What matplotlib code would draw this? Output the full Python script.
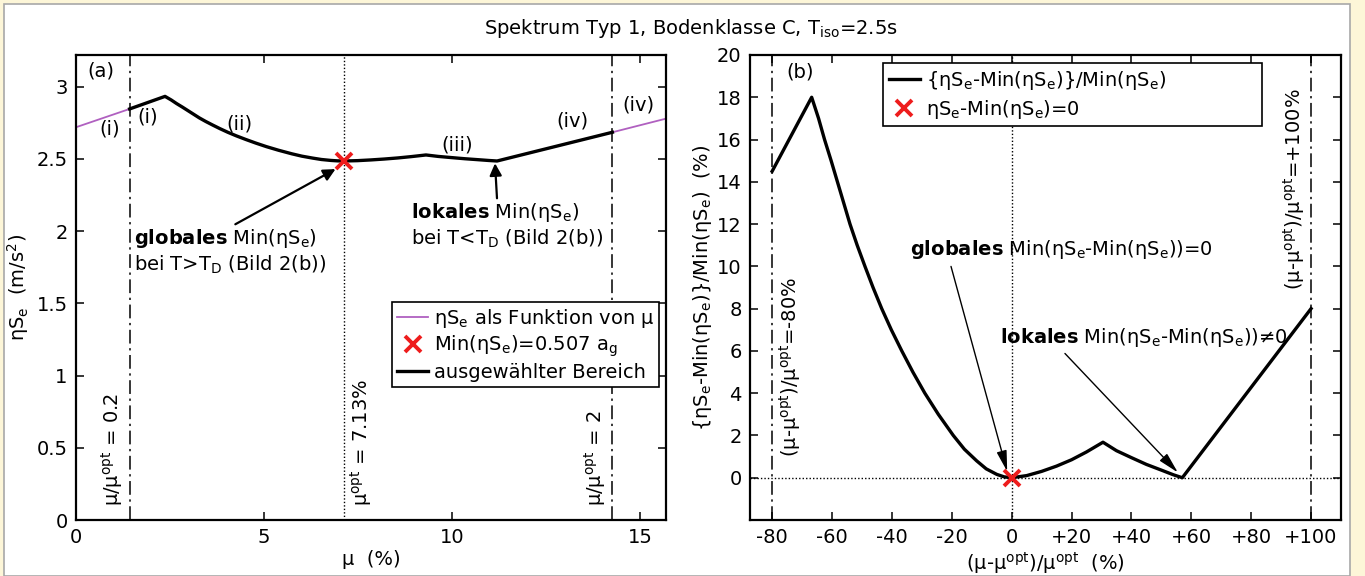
import matplotlib
matplotlib.use("Agg")
import matplotlib.pyplot as plt
from matplotlib.patches import Rectangle

plt.rcParams['font.family'] = ['DejaVu Sans']
plt.rcParams['mathtext.default'] = 'regular'

# ---------------- data ----------------
MU_OPT = 7.13          # %
SE_MIN = 2.486         # m/s^2

# relative deviation (right panel), selected range
rel_x = [-80, -66.8, -64.5, -62.5, -60.3, -58.2, -56.1, -54.0, -51.6, -49.0,
         -46.3, -43.4, -40.2, -36.7, -33.0, -29.0, -24.5, -19.5, -15.8, -11.7,
         -8.5, -5.0, -2.5, 0.0, 5.0, 10.0, 15.0, 20.0, 25.0, 30.5,
         35.0, 40.0, 45.0, 50.0, 54.0, 57.0, 100.0]
rel_y = [14.5, 18.0, 17.0, 16.0, 15.0, 14.0, 13.0, 12.0, 11.0, 10.0,
         9.0, 8.0, 7.0, 6.0, 5.0, 4.0, 3.0, 2.0, 1.35, 0.8,
         0.42, 0.16, 0.04, 0.0, 0.1, 0.3, 0.55, 0.85, 1.22, 1.68,
         1.28, 0.95, 0.63, 0.36, 0.14, 0.0, 8.0]

# function outside the selected range (purple)
ext_lo_x = [-100, -80]
ext_lo_y = [9.4, 14.5]
ext_hi_x = [100, 120]
ext_hi_y = [8.0, 11.8]

left_xticks = [0, 5, 10, 15]
left_yticks = [0, 0.5, 1, 1.5, 2, 2.5, 3]
left_yticklabels = ['0', '0.5', '1', '1.5', '2', '2.5', '3']
right_xticks = [-80, -60, -40, -20, 0, 20, 40, 60, 80, 100]
right_xticklabels = ['-80', '-60', '-40', '-20', '0', '+20', '+40', '+60', '+80', '+100']
right_yticks = [0, 2, 4, 6, 8, 10, 12, 14, 16, 18, 20]


def to_mu(r):
    return [MU_OPT * (1 + v / 100.0) for v in r]


def to_se(r):
    return [SE_MIN * (1 + v / 100.0) for v in r]


PURPLE = '#B060C0'
RED = '#EE1C1C'
DASHDOT = (0, (9, 3, 1.5, 3))
DOTTED = (0, (1, 1.5))
FS = 14

fig = plt.figure(figsize=(13.65, 5.76), dpi=100)
fig.patch.set_facecolor('#FDF6D8')
fig.add_artist(Rectangle((4 / 1365, 0), (1350 - 4) / 1365, 1 - 4 / 576,
                         transform=fig.transFigure, facecolor='white',
                         edgecolor='#A8A8A8', lw=1.2, zorder=-5))

fig.text(691 / 1365, 1 - 29 / 576, 'Spektrum Typ 1, Bodenklasse C, T$_{iso}$=2.5s',
         ha='center', va='center', fontsize=14)

axL = fig.add_axes([76 / 1365, 1 - 520 / 576, (666 - 76) / 1365, (520 - 55) / 576])
axR = fig.add_axes([750 / 1365, 1 - 520 / 576, (1341 - 750) / 1365, (520 - 55) / 576])

for ax in (axL, axR):
    ax.tick_params(direction='in', top=True, right=True, length=6, width=1.1,
                   labelsize=FS, pad=6)
    for s in ax.spines.values():
        s.set_linewidth(1.6)

# ---------------- left panel ----------------
axL.plot(to_mu(ext_lo_x), to_se(ext_lo_y), color=PURPLE, lw=1.3, zorder=2)
axL.plot(to_mu(ext_hi_x), to_se(ext_hi_y), color=PURPLE, lw=1.3, zorder=2)
axL.plot(to_mu(rel_x), to_se(rel_y), color='black', lw=2.4, zorder=3,
         solid_joinstyle='round')
axL.plot([MU_OPT], [SE_MIN], 'x', color=RED, ms=12, mew=2.8, zorder=4)

axL.axvline(MU_OPT * 0.2, color='black', lw=1.1, ls=DASHDOT, zorder=1)
axL.axvline(MU_OPT * 2.0, color='black', lw=1.1, ls=DASHDOT, zorder=1)
axL.axvline(MU_OPT, color='black', lw=1.0, ls=DOTTED, zorder=1)

axL.set_xlim(0, MU_OPT * 2.2)
axL.set_ylim(0, 3.22)
axL.set_xticks(left_xticks)
axL.set_yticks(left_yticks)
axL.set_yticklabels(left_yticklabels)
axL.set_xlabel('μ  (%)', fontsize=FS, labelpad=2)
axL.set_ylabel('ηS$_e$  (m/s$^2$)', fontsize=FS, labelpad=4)

axL.text(0.3, 3.11, '(a)', fontsize=FS, ha='left', va='center')
for x, y, s in [(0.9, 2.71, '(i)'), (1.9, 2.79, '(i)'), (4.35, 2.74, '(ii)'),
                (10.13, 2.60, '(iii)'), (13.2, 2.76, '(iv)'), (14.96, 2.875, '(iv)')]:
    axL.text(x, y, s, fontsize=FS, ha='center', va='center')

axL.text(MU_OPT * 0.2 - 0.12, 0.1, 'μ/μ$^{opt}$ = 0.2', rotation=90, fontsize=FS,
         ha='right', va='bottom')
axL.text(MU_OPT + 0.1, 0.1, 'μ$^{opt}$ = 7.13%', rotation=90, fontsize=FS,
         ha='left', va='bottom')
axL.text(MU_OPT * 2.0 - 0.12, 0.1, 'μ/μ$^{opt}$ = 2', rotation=90, fontsize=FS,
         ha='right', va='bottom')

axL.annotate('$\\mathbf{globales}$ Min(ηS$_e$)\nbei T>T$_D$ (Bild 2(b))',
             xy=(6.9, 2.43), xytext=(1.55, 1.86), fontsize=FS, ha='left', va='center',
             linespacing=1.2,
             arrowprops=dict(arrowstyle='-|>', color='black', lw=1.6, mutation_scale=18,
                             shrinkA=0, shrinkB=0, relpos=(0.5, 1.0)))
axL.annotate('$\\mathbf{lokales}$ Min(ηS$_e$)\nbei T<T$_D$ (Bild 2(b))',
             xy=(11.14, 2.47), xytext=(8.9, 2.04), fontsize=FS, ha='left', va='center',
             linespacing=1.2,
             arrowprops=dict(arrowstyle='-|>', color='black', lw=1.6, mutation_scale=18,
                             shrinkA=0, shrinkB=0, relpos=(0.45, 1.0)))

hL1, = axL.plot([], [], color=PURPLE, lw=1.3)
hL2, = axL.plot([], [], 'x', color=RED, ms=12, mew=2.8)
hL3, = axL.plot([], [], color='black', lw=2.4)
legL = axL.legend([hL1, hL2, hL3],
                  ['ηS$_e$ als Funktion von μ', 'Min(ηS$_e$)=0.507 a$_g$', 'ausgewählter Bereich'],
                  loc='upper left', bbox_to_anchor=(0.536, 0.469), fontsize=FS,
                  fancybox=False, framealpha=1, edgecolor='black', handlelength=1.6,
                  handletextpad=0.3, borderpad=0.25, labelspacing=0.2, borderaxespad=0)
legL.get_frame().set_linewidth(1.2)

# ---------------- right panel ----------------
axR.plot(rel_x, rel_y, color='black', lw=2.4, zorder=3, solid_joinstyle='round')
axR.plot([0], [0], 'x', color=RED, ms=12, mew=2.8, zorder=4)
axR.axvline(-80, color='black', lw=1.1, ls=DASHDOT, zorder=1)
axR.axvline(100, color='black', lw=1.1, ls=DASHDOT, zorder=1)
axR.axvline(0, color='black', lw=1.0, ls=DOTTED, zorder=1)
axR.axhline(0, color='black', lw=1.0, ls=DOTTED, zorder=1)

axR.set_xlim(-87.4, 110)
axR.set_ylim(-2, 20)
axR.set_xticks(right_xticks)
axR.set_xticklabels(right_xticklabels)
axR.set_yticks(right_yticks)
axR.set_xlabel('(μ-μ$^{opt}$)/μ$^{opt}$  (%)', fontsize=FS, labelpad=2)
axR.set_ylabel('{ηS$_e$-Min(ηS$_e$)}/Min(ηS$_e$)  (%)', fontsize=FS, labelpad=2)

axR.text(-70.7, 19.2, '(b)', fontsize=FS, ha='center', va='center')
axR.text(-78.5, 1.0, '(μ-μ$^{opt}$)/μ$^{opt}$=-80%', rotation=90, fontsize=FS,
         ha='left', va='bottom')
axR.text(98.5, 8.9, '(μ-μ$^{opt}$)/μ$^{opt}$=+100%', rotation=90, fontsize=FS,
         ha='right', va='bottom')

axR.annotate('$\\mathbf{globales}$ Min(ηS$_e$-Min(ηS$_e$))=0',
             xy=(-1.5, 0.3), xytext=(-33.9, 10.8), fontsize=FS, ha='left', va='center',
             arrowprops=dict(arrowstyle='-|>,head_length=0.9,head_width=0.22', color='black',
                             lw=1.0, mutation_scale=14, shrinkA=2, shrinkB=0,
                             relpos=(0.13, 0.0)))
axR.annotate('$\\mathbf{lokales}$ Min(ηS$_e$-Min(ηS$_e$))≠0',
             xy=(55.5, 0.25), xytext=(-3.9, 6.65), fontsize=FS, ha='left', va='center',
             arrowprops=dict(arrowstyle='-|>,head_length=0.9,head_width=0.22', color='black',
                             lw=1.0, mutation_scale=14, shrinkA=2, shrinkB=0,
                             relpos=(0.21, 0.0)))

hR1, = axR.plot([], [], color='black', lw=2.4)
hR2, = axR.plot([], [], 'x', color=RED, ms=12, mew=2.8)
legR = axR.legend([hR1, hR2],
                  ['{ηS$_e$-Min(ηS$_e$)}/Min(ηS$_e$)', 'ηS$_e$-Min(ηS$_e$)=0'],
                  loc='upper left', bbox_to_anchor=(0.225, 0.858, 0.641, 0.125),
                  mode='expand', fontsize=FS,
                  fancybox=False, framealpha=1, edgecolor='black', handlelength=1.6,
                  handletextpad=0.3, borderpad=0.3, labelspacing=0.3, borderaxespad=0)
legR.get_frame().set_linewidth(1.2)

fig.savefig('out.png', dpi=100, facecolor=fig.get_facecolor())
